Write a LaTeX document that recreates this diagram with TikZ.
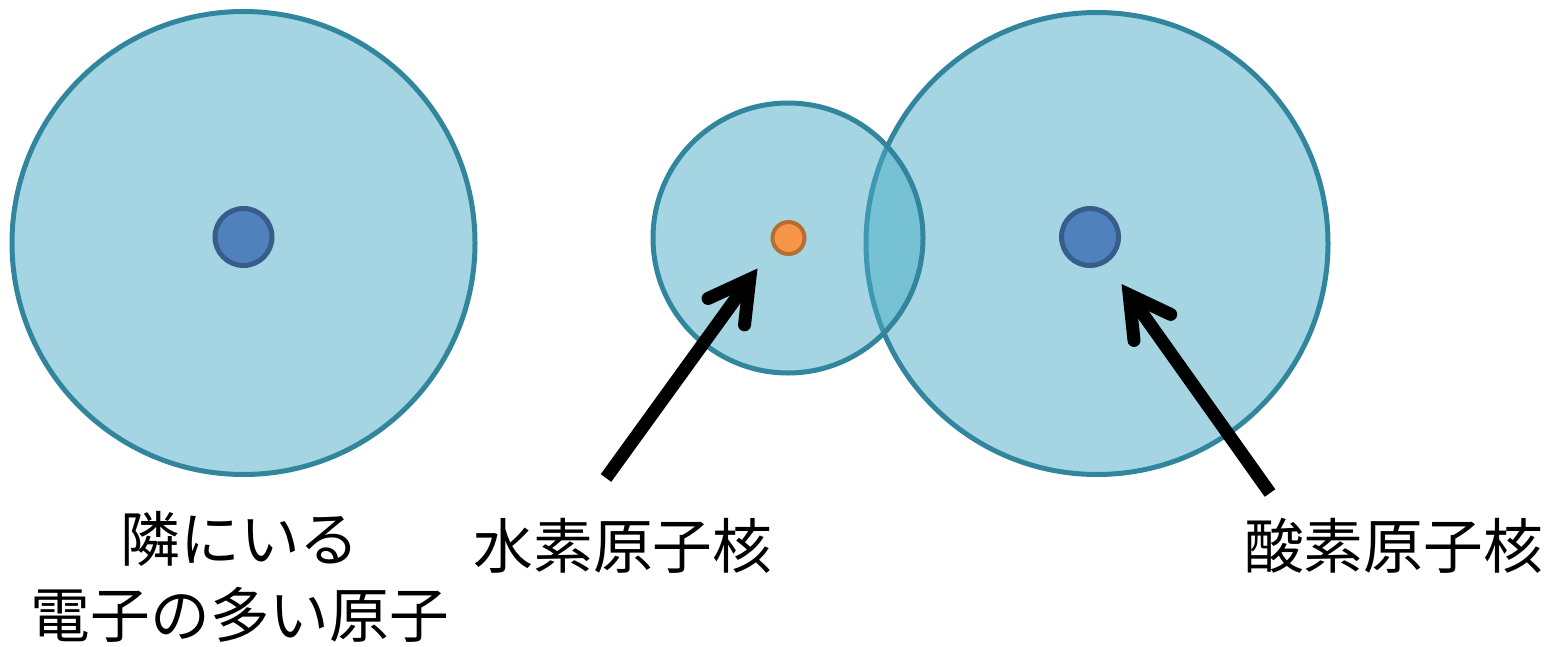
\documentclass[tikz,border=0pt]{standalone}
\usepackage{fontspec}
\newfontfamily\jpfont{Noto Sans CJK JP}
\usetikzlibrary{arrows.meta}
\definecolor{shellfill}{HTML}{4BACC6}
\definecolor{shelledge}{HTML}{31859C}
\definecolor{nucfill}{HTML}{4F81BD}
\definecolor{nucedge}{HTML}{385D8A}
\definecolor{hfill}{HTML}{F79646}
\definecolor{hedge}{HTML}{B66D31}
\newcommand{\setup}{
    \coordinate (a0) at (4.87,8.06);  % neighbour atom
    \coordinate (h0) at (15.76,8.16); % hydrogen
    \coordinate (o0) at (21.94,8.05); % oxygen

    \coordinate (na) at (4.87,8.18);
    \coordinate (nh) at (15.77,8.16);
    \coordinate (no) at (21.80,8.18);

    \coordinate (t1) at (12.12,3.36);
    \coordinate (p1) at (15.15,7.55);
    \coordinate (t2) at (25.40,3.06);
    \coordinate (p2) at (22.43,7.24);
}
\newcommand{\shell}[2]{
    \fill[shellfill,opacity=0.5] (#1) circle (#2);
    \draw[shelledge,line width=0.1cm] (#1) circle (#2);
}
\newcommand{\nucleus}[3]{
    \filldraw[fill=#2,draw=#3,line width=0.1cm] (#1) circle (0.57);
}
\tikzset{
    label/.style={font=\jpfont\fontsize{34pt}{43pt}\selectfont,align=center,inner sep=0pt},
    pointer/.style={line width=0.26cm,-{Straight Barb[length=0.8cm,width=0.9cm,line cap=round,line join=miter]}}
}
\begin{document}
\begin{tikzpicture}
    \useasboundingbox (0,0) rectangle (31.26,12.92);
    \setup;

    \shell{a0}{4.63};
    \shell{o0}{4.62};
    \shell{h0}{2.70};

    \nucleus{na}{nucfill}{nucedge};
    \nucleus{no}{nucfill}{nucedge};
    \filldraw[fill=hfill,draw=hedge,line width=0.08cm] (nh) circle (0.32);

    \node[label] (nbr) at (4.80,1.38) {隣にいる\\電子の多い原子};
    \node[label] (hyd) at (12.46,2.00) {水素原子核};
    \node[label] (oxy) at (27.87,2.00) {酸素原子核};

    \draw[pointer] (t1) -- (p1);
    \draw[pointer] (t2) -- (p2);
\end{tikzpicture}
\end{document}
